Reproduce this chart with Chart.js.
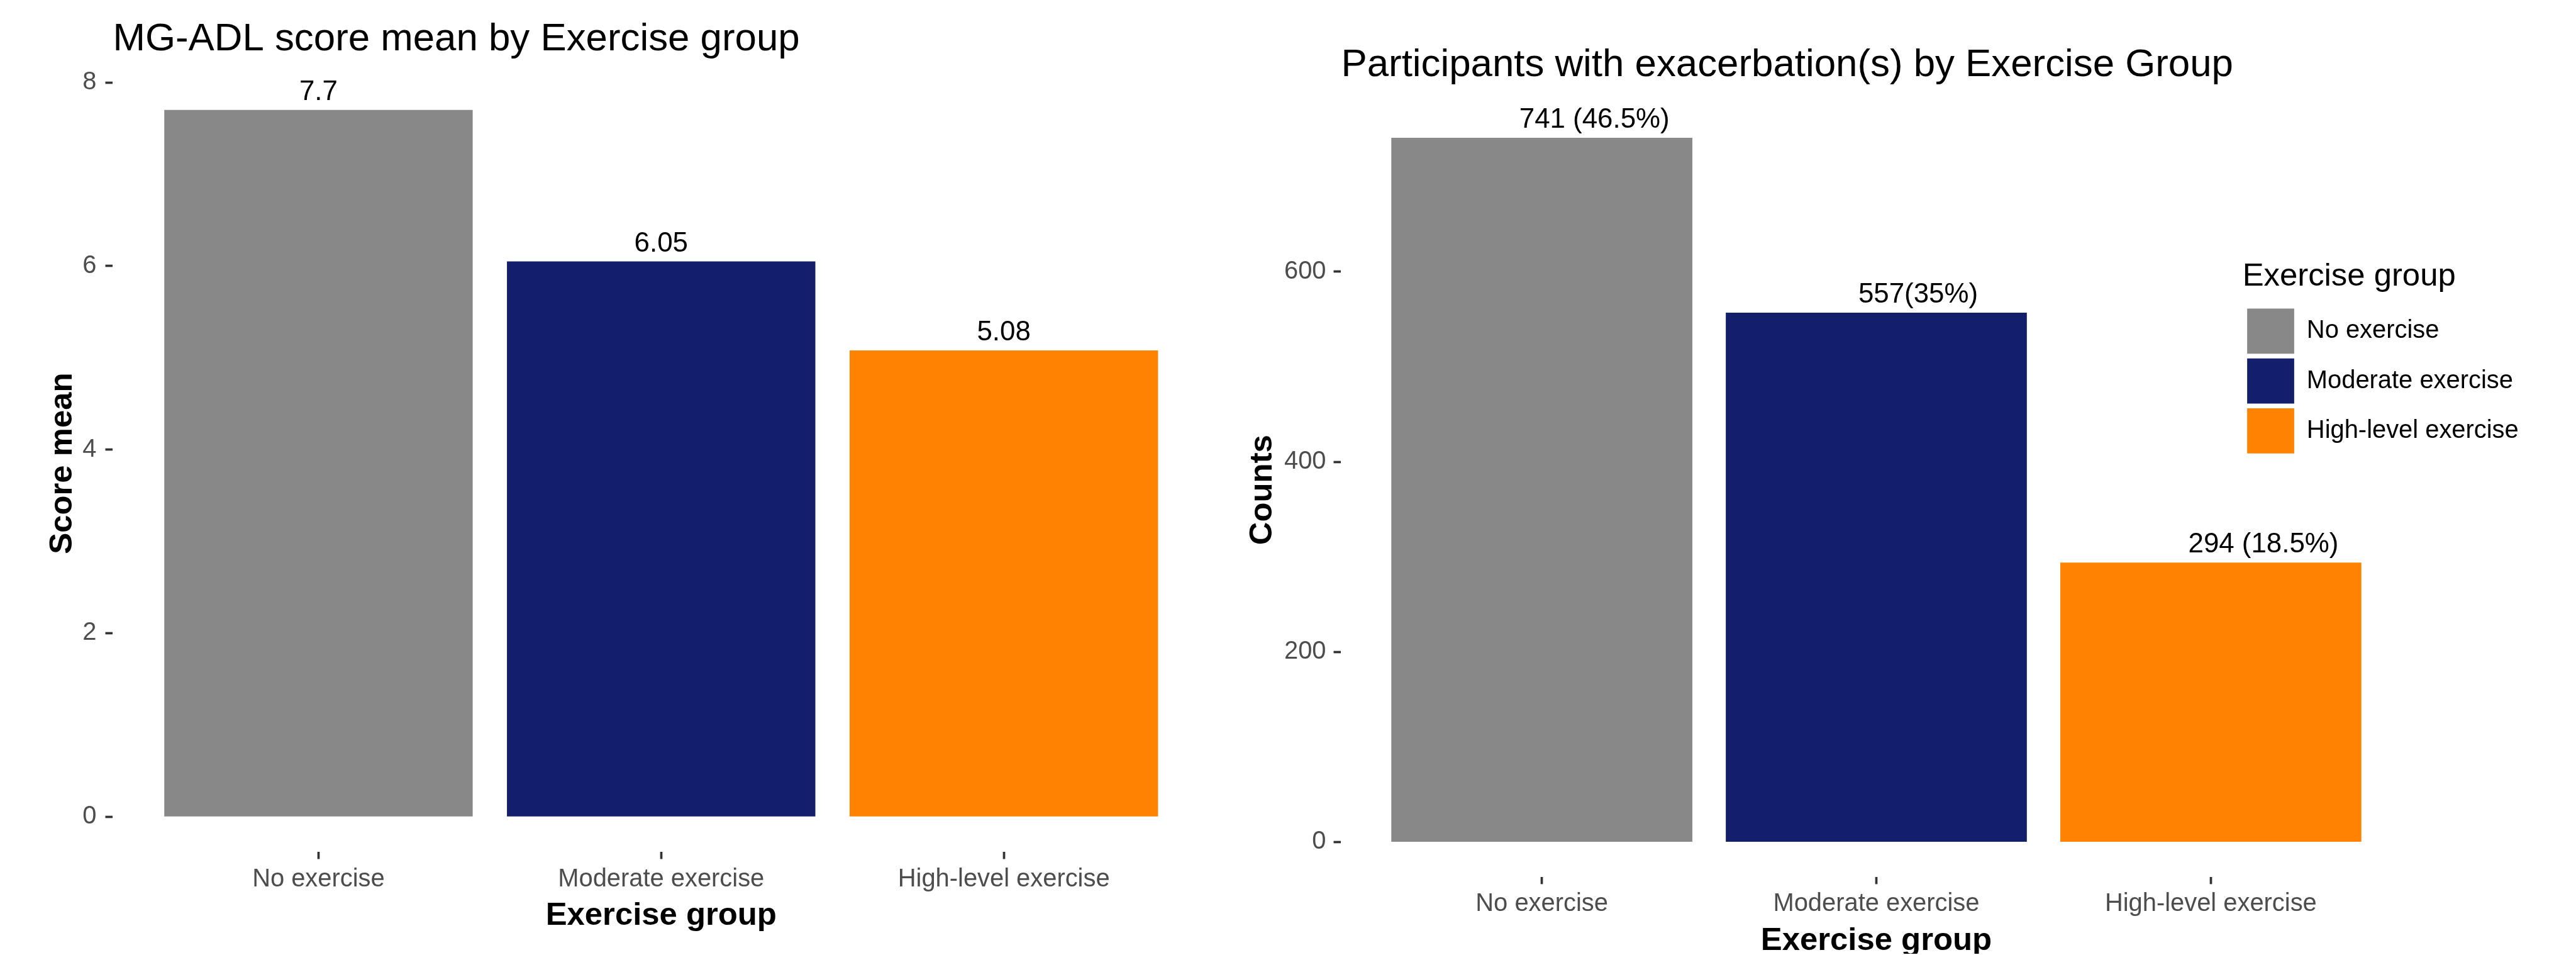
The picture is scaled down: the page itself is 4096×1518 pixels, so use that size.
<!DOCTYPE html>
<html>
<head>
<meta charset="utf-8">
<script src="https://cdn.jsdelivr.net/npm/chart.js@4.4.1/dist/chart.umd.min.js"></script>
<style>
html,body{margin:0;padding:0;background:#ffffff;overflow:hidden;width:4096px;height:1518px}
canvas{position:absolute;top:0}
</style>
</head>
<body>
<canvas id="c1"></canvas>
<canvas id="c2"></canvas>
<script>
// ---------- data ----------
const categories = ["No exercise", "Moderate exercise", "High-level exercise"];
const barColors = ["#888888", "#131F6B", "#FF8200"];
const scoreMeans = [7.7, 6.05, 5.08];
const scoreLabels = ["7.7", "6.05", "5.08"];
const scoreTicks = [0, 2, 4, 6, 8];
const exacerbationCounts = [741, 557, 294];
const exacerbationLabels = ["741 (46.5%)", "557(35%)", "294 (18.5%)"];
const countTicks = [0, 200, 400, 600];

// ---------- geometry helpers ----------
const S = 0.997;
const s = v => v * S;
const FONT = "'Liberation Sans', Arial, sans-serif";

const barLabelPlugin = {
  id: 'barLabels',
  afterDatasetsDraw(chart, args, opts) {
    const ctx = chart.ctx;
    const meta = chart.getDatasetMeta(0);
    const hjust = opts.hjust === undefined ? 0.5 : opts.hjust;
    ctx.save();
    ctx.font = s(44) + 'px ' + FONT;
    ctx.fillStyle = '#000000';
    ctx.textAlign = 'left';
    ctx.textBaseline = 'alphabetic';
    meta.data.forEach((bar, i) => {
      const t = opts.labels[i];
      const w = ctx.measureText(t).width;
      ctx.fillText(t, bar.x - hjust * w, bar.y - s(16));
    });
    ctx.restore();
  }
};

const legendPlace = {
  id: 'legendPlace',
  afterLayout(chart, args, opts) {
    const lg = chart.legend;
    if (lg && opts && opts.left !== undefined) {
      lg.left = opts.left;
      lg.top = opts.top;
      lg.right = chart.width;
      lg.bottom = chart.height;
      lg.width = lg.right - lg.left;
      lg.height = lg.bottom - lg.top;
    }
  }
};

function xScale(tickPad, height, titlePadBottom) {
  return {
    type: 'linear', min: 0.4, max: 3.6, offset: false,
    afterBuildTicks: sc => { sc.ticks = categories.map((c, i) => ({ value: i + 1 })); },
    afterFit: sc => { sc.height = s(height); },
    grid: { offset: false, drawOnChartArea: false, drawTicks: true, tickLength: s(11), tickWidth: s(3.7), tickColor: '#333333' },
    border: { display: false },
    ticks: {
      callback: (v, i) => categories[i],
      autoSkip: false, maxRotation: 0, minRotation: 0,
      color: '#4D4D4D', font: { family: FONT, size: s(40) }, padding: s(tickPad)
    },
    title: {
      display: true, text: 'Exercise group', color: '#000000',
      font: { family: FONT, size: s(51), weight: 'bold' },
      padding: { top: 0, bottom: s(titlePadBottom) }
    }
  };
}

function yScale(min, max, ticks, width, tickPad, title, titlePadTop) {
  return {
    type: 'linear', min: min, max: max,
    afterBuildTicks: sc => { sc.ticks = ticks.map(v => ({ value: v })); },
    afterFit: sc => { sc.width = s(width); },
    grid: { drawOnChartArea: false, drawTicks: true, tickLength: s(12), tickWidth: s(3.7), tickColor: '#333333' },
    border: { display: false },
    ticks: { color: '#4D4D4D', font: { family: FONT, size: s(40) }, padding: s(tickPad) },
    title: {
      display: true, text: title, color: '#000000',
      font: { family: FONT, size: s(51), weight: 'bold' },
      padding: { top: s(titlePadTop), bottom: 0 }
    }
  };
}

function setupCanvas(id, left, w, h) {
  const c = document.getElementById(id);
  c.width = Math.round(s(w));
  c.height = Math.round(s(h));
  c.style.left = Math.round(s(left)) + 'px';
  c.style.width = c.width + 'px';
  c.style.height = c.height + 'px';
  return c;
}

Chart.defaults.font.family = FONT;

// ---------- left chart ----------
const c1 = setupCanvas('c1', 0, 1960, 1521);
new Chart(c1, {
  type: 'bar',
  data: {
    datasets: [{
      data: scoreMeans.map((v, i) => ({ x: i + 1, y: v })),
      backgroundColor: barColors,
      borderWidth: 0,
      categoryPercentage: 0.9,
      barPercentage: 1.0
    }]
  },
  options: {
    responsive: false, animation: false, devicePixelRatio: 1,
    layout: { padding: { left: 0, top: 0, right: s(31), bottom: 0 } },
    scales: {
      x: xScale(8.5, 162, 29.4),
      y: yScale(-0.385, 8.085, scoreTicks, 180, 14, 'Score mean', 69.9)
    },
    plugins: {
      legend: { display: false },
      tooltip: { enabled: false },
      title: {
        display: true, text: 'MG-ADL score mean by Exercise group',
        align: 'start', fullSize: false, color: '#000000',
        font: { family: FONT, size: s(62), weight: 'normal' },
        padding: { top: s(25.6), bottom: s(19) }
      },
      barLabels: { labels: scoreLabels, hjust: 0.5 }
    }
  },
  plugins: [barLabelPlugin]
});

// ---------- right chart ----------
const c2 = setupCanvas('c2', 1960, 2145, 1521);
new Chart(c2, {
  type: 'bar',
  data: {
    datasets: [{
      data: exacerbationCounts.map((v, i) => ({ x: i + 1, y: v })),
      backgroundColor: barColors,
      borderWidth: 0,
      categoryPercentage: 0.9,
      barPercentage: 1.0
    }]
  },
  options: {
    responsive: false, animation: false, devicePixelRatio: 1,
    layout: { padding: { left: 0, top: 0, right: s(259.3), bottom: 0 } },
    scales: {
      x: xScale(8, 122, -10.6),
      y: yScale(-37.05, 778.05, countTicks, 179, 12, 'Counts', 23.4)
    },
    plugins: {
      tooltip: { enabled: false },
      title: {
        display: true, text: 'Participants with exacerbation(s) by Exercise Group',
        align: 'start', fullSize: false, color: '#000000',
        font: { family: FONT, size: s(62), weight: 'normal' },
        padding: { top: s(66.6), bottom: s(22.5) }
      },
      legend: {
        display: true, position: 'chartArea', align: 'start',
        title: {
          display: true, text: 'Exercise group', position: 'start', color: '#000000',
          font: { family: FONT, size: s(51), weight: 'normal' },
          padding: { top: 0, bottom: s(7.3) }
        },
        labels: {
          boxWidth: s(75), boxHeight: s(72), padding: s(7.5), textAlign: 'left',
          color: '#000000', font: { family: FONT, size: s(40) },
          generateLabels: () => categories.map((c, i) => ({
            text: c, fillStyle: barColors[i], strokeStyle: barColors[i],
            lineWidth: 0, hidden: false, index: i, datasetIndex: 0,
            fontColor: '#000000', textAlign: 'left'
          }))
        }
      },
      legendPlace: { left: s(1616.5), top: s(416) },
      barLabels: { labels: exacerbationLabels, hjust: 0.15 }
    }
  },
  plugins: [barLabelPlugin, legendPlace]
});
</script>
</body>
</html>
